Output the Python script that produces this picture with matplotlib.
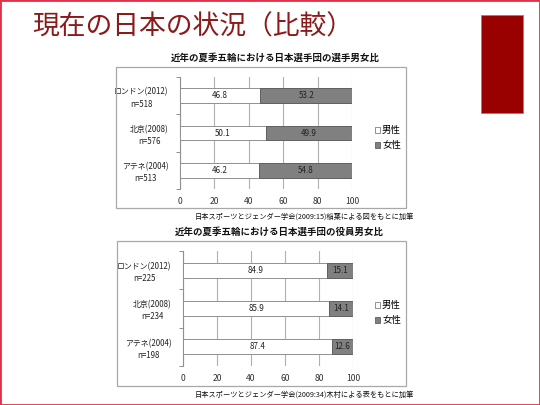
import matplotlib
matplotlib.use("Agg")
import matplotlib.pyplot as plt
from matplotlib.patches import Rectangle
import numpy as np

plt.rcParams['font.family'] = ['Noto Sans CJK JP', 'DejaVu Sans']

slide_title = "現在の日本の状況（比較）"
categories = ["アテネ(2004)\nn=513", "北京(2008)\nn=576", "ロンドン(2012)\nn=518"]
athletes_male = [46.2, 50.1, 46.8]
athletes_female = [54.8, 49.9, 53.2]
title1 = "近年の夏季五輪における日本選手団の選手男女比"
source1 = "日本スポーツとジェンダー学会(2009:15)稲葉による図をもとに加筆"

categories2 = ["アテネ(2004)\nn=198", "北京(2008)\nn=234", "ロンドン(2012)\nn=225"]
officials_male = [87.4, 85.9, 84.9]
officials_female = [12.6, 14.1, 15.1]
title2 = "近年の夏季五輪における日本選手団の役員男女比"
source2 = "日本スポーツとジェンダー学会(2009:34)木村による表をもとに加筆"

legend_labels = ["男性", "女性"]
xticks = [0, 20, 40, 60, 80, 100]

W, H = 540, 405
fig = plt.figure(figsize=(W/100, H/100), dpi=100)

def fx(px): return px / W
def fy(py): return 1 - py / H

# slide border
fig.patches.append(Rectangle((0, 0), 1, 1, transform=fig.transFigure,
                             fill=False, edgecolor='#e0304a', linewidth=2))
# red block
fig.patches.append(Rectangle((fx(481), fy(113)), fx(523)-fx(481), fy(15)-fy(113),
                             transform=fig.transFigure, facecolor='#990000',
                             edgecolor='#c07070', linewidth=0.6))
fig.text(fx(32), fy(27), slide_title, fontsize=19.3, color='#8b1a1a',
         ha='left', va='center')

def chart(box, axbox, cats, male, female, title, title_x, title_y, source, source_y, leg_y):
    bx0, by0, bx1, by1 = box
    fig.patches.append(Rectangle((fx(bx0), fy(by1)), fx(bx1)-fx(bx0), fy(by0)-fy(by1),
                                 transform=fig.transFigure, fill=False,
                                 edgecolor='#a8a8a8', linewidth=0.9))
    ax0, ay0, ax1, ay1 = axbox
    ax = fig.add_axes([fx(ax0), fy(ay1), fx(ax1)-fx(ax0), fy(ay0)-fy(ay1)])
    y = np.arange(len(cats))
    ax.barh(y, male, height=0.39, color='white', edgecolor='#909090',
            linewidth=0.7, zorder=3, label=legend_labels[0])
    ax.barh(y, female, left=male, height=0.39, color='#808080',
            edgecolor='#606060', linewidth=0.7, zorder=3, label=legend_labels[1])
    for yi, m, f in zip(y, male, female):
        ax.text(m/2, yi, f"{m:.1f}", ha='center', va='center', fontsize=5.8,
                color='#222222', zorder=4)
        ax.text(m + min(f, 100-m)/2, yi, f"{f:.1f}", ha='center', va='center',
                fontsize=5.8, color='#222222', zorder=4)
    ax.set_xlim(0, 100)
    ax.set_ylim(-0.5, len(cats)-0.5)
    ax.set_xticks(xticks)
    ax.set_xticklabels([str(t) for t in xticks], fontsize=6.2, color='#333333')
    ax.tick_params(axis='x', length=0, pad=6)
    ax.set_yticks(y)
    ax.set_yticklabels(cats, fontsize=5.7, color='#222222', linespacing=1.4,
                       multialignment='center')
    ax.tick_params(axis='y', which='major', length=0, pad=8)
    ax.set_yticks(np.arange(len(cats)+1) - 0.5, minor=True)
    ax.tick_params(axis='y', which='minor', length=3, color='#909090', width=0.7)
    ax.grid(axis='x', color='#b0b0b0', linewidth=0.8, zorder=0)
    for s in ['top', 'right', 'bottom']:
        ax.spines[s].set_visible(False)
    ax.spines['left'].set_color('#909090')
    ax.spines['left'].set_linewidth(0.8)
    ax.set_facecolor('none')
    fig.text(fx(title_x), fy(title_y), title, fontsize=6.8, weight='bold',
             ha='center', va='center', color='#111111')
    fig.text(fx(414), fy(source_y), source, fontsize=5.2, ha='right',
             va='center', color='#111111')
    handles = [Rectangle((0, 0), 1, 1, facecolor='white', edgecolor='#808080', linewidth=0.6),
               Rectangle((0, 0), 1, 1, facecolor='#808080', edgecolor='#606060', linewidth=0.6)]
    fig.legend(handles, legend_labels, loc='center left',
               bbox_to_anchor=(fx(366), fy(leg_y)), frameon=False, fontsize=6.8,
               handlelength=0.6, handleheight=0.6, handletextpad=0.2,
               labelspacing=0.6)
    return ax

chart((116, 67, 406, 208), (180, 77, 352, 189), categories, athletes_male,
      athletes_female, title1, 275, 58, source1, 217, 138)
chart((117, 241, 406, 386), (183, 251, 353, 366), categories2, officials_male,
      officials_female, title2, 279, 232, source2, 395, 313)

fig.savefig("out.png", dpi=100)
